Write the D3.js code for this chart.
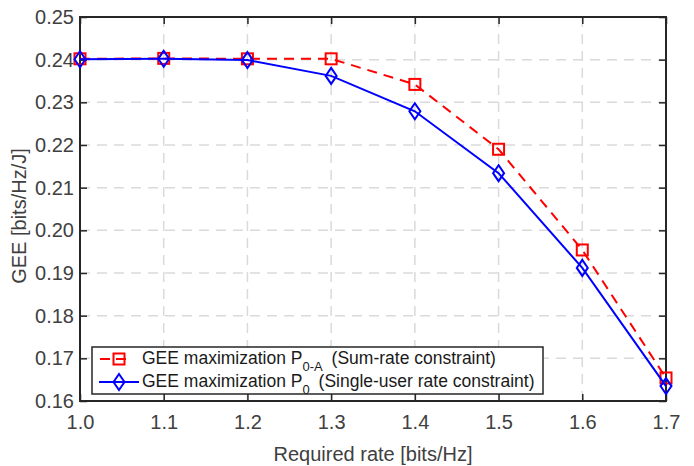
<!DOCTYPE html>
<html>
<head>
<meta charset="utf-8">
<script src="https://cdn.jsdelivr.net/npm/d3@7"></script>
<style>
  html, body { margin: 0; padding: 0; background: #fff; }
  svg { display: block; font-family: "Liberation Sans", Arial, Helvetica, sans-serif; }
</style>
</head>
<body>
<svg id="chart" width="694" height="466"></svg>
<script>
// ---- data ----
const rates = [1.0, 1.1, 1.2, 1.3, 1.4, 1.5, 1.6, 1.7];
const geeSumRate = [0.2402, 0.2403, 0.2402, 0.2402, 0.2342, 0.2190, 0.1954, 0.1654];
const geeSingleUser = [0.2401, 0.2402, 0.2399, 0.2362, 0.2279, 0.2134, 0.1912, 0.1635];
const xTicks = [1.0, 1.1, 1.2, 1.3, 1.4, 1.5, 1.6, 1.7];
const yTicks = [0.16, 0.17, 0.18, 0.19, 0.20, 0.21, 0.22, 0.23, 0.24, 0.25];
const xLabel = "Required rate [bits/Hz]";
const yLabel = "GEE [bits/Hz/J]";
const legendEntries = [
  { main: "GEE maximization P", sub: "0-A", rest: " (Sum-rate constraint)" },
  { main: "GEE maximization P", sub: "0", rest: " (Single-user rate constraint)" }
];

// ---- layout ----
const svg = d3.select("#chart");
const L = 80, R = 666, T = 17, B = 401;
const x = d3.scaleLinear().domain([1.0, 1.7]).range([L, R]);
const y = d3.scaleLinear().domain([0.16, 0.25]).range([B, T]);
const axisColor = "#262626";
const textColor = "#404040";
const gridColor = "#dadada";
const fontSize = 20;

// grid
const grid = svg.append("g");
grid.selectAll(".gx").data(xTicks.slice(1, -1)).enter().append("line")
  .attr("x1", d => x(d)).attr("x2", d => x(d)).attr("y1", T).attr("y2", B)
  .attr("stroke", gridColor).attr("stroke-width", 1.5).attr("stroke-dasharray", "10,7");
grid.selectAll(".gy").data(yTicks.slice(1, -1)).enter().append("line")
  .attr("y1", d => y(d)).attr("y2", d => y(d)).attr("x1", L).attr("x2", R)
  .attr("stroke", gridColor).attr("stroke-width", 1.5).attr("stroke-dasharray", "10,7");

// axes
const fmtX = d3.format(".1f"), fmtY = d3.format(".2f");
const tickLen = 7;
function styleAxis(g) {
  g.select(".domain").remove();
  g.selectAll(".tick line").attr("stroke", axisColor).attr("stroke-width", 1.5);
  g.selectAll(".tick text").attr("fill", textColor).attr("font-size", fontSize)
    .attr("font-family", "Liberation Sans, Arial, sans-serif");
}
svg.append("g").attr("transform", `translate(0,${B})`)
  .call(d3.axisBottom(x).tickValues(xTicks).tickFormat(fmtX).tickSizeInner(-tickLen).tickSizeOuter(0).tickPadding(14))
  .call(styleAxis);
svg.append("g").attr("transform", `translate(${L},0)`)
  .call(d3.axisLeft(y).tickValues(yTicks).tickFormat(fmtY).tickSizeInner(-tickLen).tickSizeOuter(0).tickPadding(6))
  .call(styleAxis);
svg.append("g").attr("transform", `translate(0,${T})`)
  .call(d3.axisTop(x).tickValues(xTicks).tickFormat("").tickSizeInner(-tickLen).tickSizeOuter(0))
  .call(styleAxis);
svg.append("g").attr("transform", `translate(${R},0)`)
  .call(d3.axisRight(y).tickValues(yTicks).tickFormat("").tickSizeInner(-tickLen).tickSizeOuter(0))
  .call(styleAxis);

// frame
svg.append("rect").attr("x", L).attr("y", T).attr("width", R - L).attr("height", B - T)
  .attr("fill", "none").attr("stroke", axisColor).attr("stroke-width", 2);

// axis labels
svg.append("text").attr("x", (L + R) / 2).attr("y", 461).attr("text-anchor", "middle")
  .attr("font-size", fontSize).attr("fill", textColor).text(xLabel);
svg.append("text").attr("transform", `translate(26,216) rotate(-90)`).attr("text-anchor", "middle")
  .attr("font-size", fontSize).attr("fill", textColor).text(yLabel);

// series
const red = "#ff0000", blue = "#0000ff";
const line = d3.line().x(d => x(d[0])).y(d => y(d[1]));
const redData = rates.map((r, i) => [r, geeSumRate[i]]);
const blueData = rates.map((r, i) => [r, geeSingleUser[i]]);

function square(g, cx, cy) {
  g.append("rect").attr("x", cx - 5.5).attr("y", cy - 5.5).attr("width", 11).attr("height", 11)
    .attr("fill", "none").attr("stroke", red).attr("stroke-width", 2);
}
function diamond(g, cx, cy) {
  g.append("path").attr("d", `M${cx},${cy - 8}L${cx + 5.5},${cy}L${cx},${cy + 8}L${cx - 5.5},${cy}Z`)
    .attr("fill", "none").attr("stroke", blue).attr("stroke-width", 2);
}

svg.append("path").datum(redData).attr("d", line).attr("fill", "none")
  .attr("stroke", red).attr("stroke-width", 2).attr("stroke-dasharray", "10,7");
const redMarks = svg.append("g");
redData.forEach(d => square(redMarks, x(d[0]), y(d[1])));

svg.append("path").datum(blueData).attr("d", line).attr("fill", "none")
  .attr("stroke", blue).attr("stroke-width", 2);
const blueMarks = svg.append("g");
blueData.forEach(d => diamond(blueMarks, x(d[0]), y(d[1])));

// legend
const lg = svg.append("g");
lg.append("rect").attr("x", 92).attr("y", 347).attr("width", 451).attr("height", 47)
  .attr("fill", "#fff").attr("stroke", axisColor).attr("stroke-width", 1.5);
const rowY = [359, 382];
lg.append("line").attr("x1", 100).attr("x2", 130).attr("y1", rowY[0]).attr("y2", rowY[0])
  .attr("stroke", red).attr("stroke-width", 2).attr("stroke-dasharray", "10,6");
square(lg, 119, rowY[0]);
lg.append("line").attr("x1", 99).attr("x2", 139).attr("y1", rowY[1]).attr("y2", rowY[1])
  .attr("stroke", blue).attr("stroke-width", 2);
diamond(lg, 119, rowY[1]);
legendEntries.forEach((e, i) => {
  const t = lg.append("text").attr("x", 142).attr("y", rowY[i] + 5).attr("font-size", 17.5).attr("fill", "#1a1a1a");
  t.append("tspan").text(e.main);
  t.append("tspan").attr("dy", 7).attr("font-size", 13).text(e.sub);
  t.append("tspan").attr("dy", -7).attr("dx", 4).text(e.rest);
});
</script>
</body>
</html>
